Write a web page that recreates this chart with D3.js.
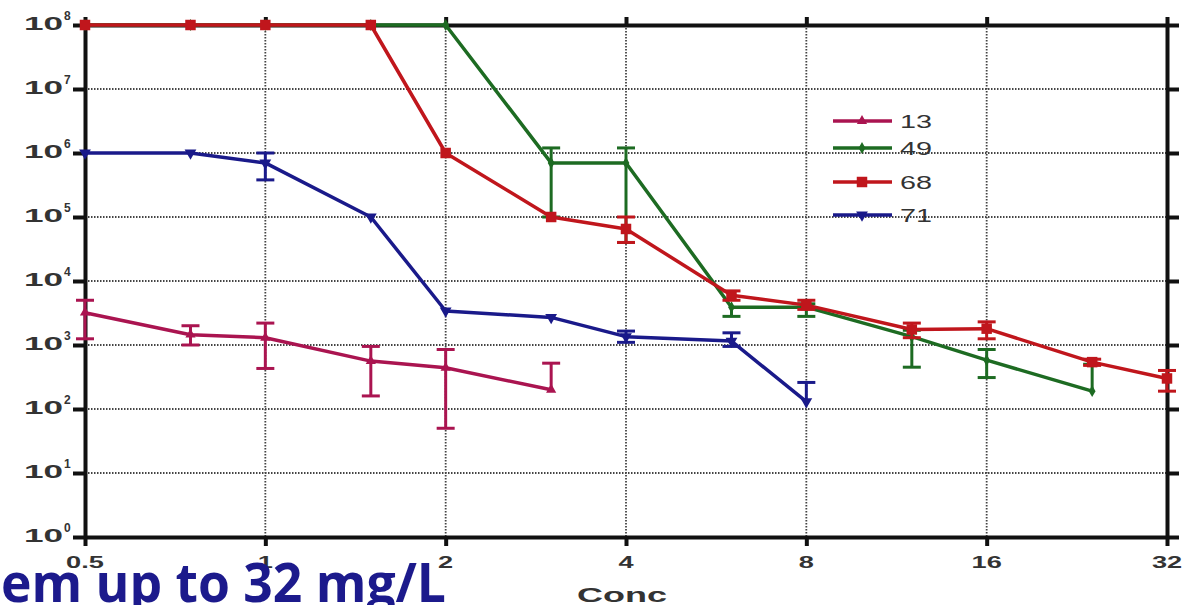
<!DOCTYPE html>
<html>
<head>
<meta charset="utf-8">
<script src="https://cdn.jsdelivr.net/npm/d3@7"></script>
<style>
  html, body { margin: 0; padding: 0; background: #fff; }
  svg { display: block; }
</style>
</head>
<body>
<div id="chart"></div>
<script>
// concentrations (x)
const concs = [0.5, 0.75, 1, 1.5, 2, 3, 4, 6, 8, 12, 16, 24, 32];

// series 13
const s13 = [3200, 1450, 1300, 560, 440, 200, null, null, null, null, null, null, null];
const s13Hi = [5000, 2000, 2200, 950, 850, 520, null, null, null, null, null, null, null];
const s13Lo = [1250, 1000, 430, 160, 50, 200, null, null, null, null, null, null, null];

// series 49
const s49 = [1e8, 1e8, 1e8, 1e8, 1e8, 7e5, 7e5, 3900, 3900, 1350, 580, 190, null];
const s49Hi = [null, null, null, null, null, 1.2e6, 1.2e6, 3900, 4400, 1700, 850, 500, null];
const s49Lo = [null, null, null, null, null, 1e5, 4e4, 2800, 2800, 450, 310, 190, null];

// series 68
const s68 = [1e8, 1e8, 1e8, 1e8, 1e6, 1e5, 6.5e4, 6000, 4200, 1750, 1800, 540, 300];
const s68Hi = [null, null, null, null, null, null, 1e5, 7000, 5000, 2200, 2300, 600, 400];
const s68Lo = [null, null, null, null, null, null, 4e4, 5000, 3600, 1300, 1250, 480, 190];

// series 71
const s71 = [1e6, 1e6, 7e5, 1e5, 3400, 2700, 1350, 1150, 130, null, null, null, null];
const s71Hi = [null, null, 1e6, null, null, null, 1650, 1550, 260, null, null, null, null];
const s71Lo = [null, null, 3.8e5, null, null, null, 1100, 950, 130, null, null, null, null];

const xTicks = [0.5, 1, 2, 4, 8, 16, 32];
const xTickLabels = ['0.5', '1', '2', '4', '8', '16', '32'];
const yTicks = [1, 10, 100, 1e3, 1e4, 1e5, 1e6, 1e7, 1e8];

const seriesNames = ['13', '49', '68', '71'];
const seriesColors = ['#aa1450', '#1d6b22', '#c0161c', '#1a1a8a'];

const width = 1184, height = 605;
const plotLeft = 85, plotRight = 1167, plotTop = 25, plotBottom = 537;
// the source picture is stretched sideways, so its text is too
const stretch = 1.75;
const labelFont = 'Liberation Sans, Arial, sans-serif';

const svg = d3.select('#chart').append('svg')
  .attr('width', width)
  .attr('height', height)
  .attr('viewBox', `0 0 ${width} ${height}`);

const x = d3.scaleLog().base(2).domain([0.5, 32]).range([plotLeft, plotRight]);
const y = d3.scaleLog().domain([1, 1e8]).range([plotBottom, plotTop]);

function wideText(parent, tx, ty, str, size, anchor, weight, sx) {
  return parent.append('text')
    .attr('transform', `translate(${tx},${ty}) scale(${sx || stretch},1)`)
    .attr('text-anchor', anchor)
    .attr('font-family', labelFont)
    .attr('font-weight', weight)
    .attr('font-size', size)
    .attr('fill', '#333')
    .text(str);
}

// grid
const grid = svg.append('g');
grid.selectAll('.gx')
  .data(xTicks.slice(1, -1))
  .enter().append('line')
  .attr('x1', d => x(d)).attr('x2', d => x(d))
  .attr('y1', plotTop).attr('y2', plotBottom)
  .attr('stroke', '#444').attr('stroke-width', 1.8)
  .attr('stroke-dasharray', '1.5,1.5');
grid.selectAll('.gy')
  .data(yTicks.slice(1, -1))
  .enter().append('line')
  .attr('x1', plotLeft).attr('x2', plotRight)
  .attr('y1', d => y(d)).attr('y2', d => y(d))
  .attr('stroke', '#444').attr('stroke-width', 1.8)
  .attr('stroke-dasharray', '1.5,1.5');

// axes (ticks outward on all sides)
const axisLeft = d3.axisLeft(y).tickValues(yTicks).tickSize(12).tickSizeOuter(0).tickFormat('');
const axisRight = d3.axisRight(y).tickValues(yTicks).tickSize(12).tickSizeOuter(0).tickFormat('');
const axisBottom = d3.axisBottom(x).tickValues(xTicks).tickSize(9).tickSizeOuter(0).tickFormat('');
const axisTop = d3.axisTop(x).tickValues(xTicks).tickSize(8).tickSizeOuter(0).tickFormat('');

const axes = [
  svg.append('g').attr('transform', `translate(${plotLeft},0)`).call(axisLeft),
  svg.append('g').attr('transform', `translate(${plotRight},0)`).call(axisRight),
  svg.append('g').attr('transform', `translate(0,${plotBottom})`).call(axisBottom),
  svg.append('g').attr('transform', `translate(0,${plotTop})`).call(axisTop)
];
axes.forEach(a => {
  a.select('.domain').attr('stroke', '#111').attr('stroke-width', 4);
  a.selectAll('.tick line').attr('stroke', '#111').attr('stroke-width', 4);
});

// y tick labels 10^n
const yLab = svg.append('g');
yTicks.forEach(v => {
  wideText(yLab, 63, y(v) + 5, '10', 18, 'end', 'bold', 1.95);
  wideText(yLab, 64, y(v) - 5, String(Math.round(Math.log10(v))), 12, 'start', 'bold', 1.0);
});

// x tick labels
const xLab = svg.append('g');
xTicks.forEach((d, i) => {
  wideText(xLab, x(d), 568, xTickLabels[i], 16, 'middle', 'bold', 1.7);
});

wideText(svg, 622, 602, 'Conc', 20, 'middle', 'bold', 1.8);

// series
const series = [
  {name: '13', vals: s13, hi: s13Hi, lo: s13Lo, symbol: d3.symbolTriangle, size: 45, rot: 0},
  {name: '49', vals: s49, hi: s49Hi, lo: s49Lo, symbol: d3.symbolDiamond, size: 40, rot: 0},
  {name: '68', vals: s68, hi: s68Hi, lo: s68Lo, symbol: d3.symbolSquare, size: 110, rot: 0},
  {name: '71', vals: s71, hi: s71Hi, lo: s71Lo, symbol: d3.symbolTriangle, size: 60, rot: 180}
];

const line = d3.line()
  .defined(d => d.v !== null)
  .x(d => x(d.c))
  .y(d => y(d.v));

series.forEach((s, i) => {
  const color = seriesColors[i];
  const pts = concs.map((c, j) => ({c: c, v: s.vals[j], hi: s.hi[j], lo: s.lo[j]}));
  const g = svg.append('g');

  // error bars
  pts.filter(p => p.v !== null && (p.hi !== null || p.lo !== null)).forEach(p => {
    const hi = p.hi !== null ? p.hi : p.v;
    const lo = p.lo !== null ? p.lo : p.v;
    g.append('line')
      .attr('x1', x(p.c)).attr('x2', x(p.c))
      .attr('y1', y(hi)).attr('y2', y(lo))
      .attr('stroke', color).attr('stroke-width', 3);
    [p.hi, p.lo].filter(e => e !== null && e !== p.v).forEach(e => {
      g.append('line')
        .attr('x1', x(p.c) - 9).attr('x2', x(p.c) + 9)
        .attr('y1', y(e)).attr('y2', y(e))
        .attr('stroke', color).attr('stroke-width', 3);
    });
  });

  g.append('path')
    .datum(pts)
    .attr('d', line)
    .attr('fill', 'none')
    .attr('stroke', color)
    .attr('stroke-width', 3.5)
    .attr('stroke-linejoin', 'round');

  g.selectAll('.mk')
    .data(pts.filter(p => p.v !== null))
    .enter().append('path')
    .attr('d', d3.symbol().type(s.symbol).size(s.size))
    .attr('transform', p => `translate(${x(p.c)},${y(p.v)}) rotate(${s.rot})`)
    .attr('fill', color);
});

// legend
const legendY = [121, 148, 182, 215];
const legend = svg.append('g');
series.forEach((s, i) => {
  const color = seriesColors[i];
  legend.append('line')
    .attr('x1', 833).attr('x2', 892)
    .attr('y1', legendY[i]).attr('y2', legendY[i])
    .attr('stroke', color).attr('stroke-width', 3.5);
  legend.append('path')
    .attr('d', d3.symbol().type(s.symbol).size(s.size))
    .attr('transform', `translate(862,${legendY[i]}) rotate(${s.rot})`)
    .attr('fill', color);
  wideText(legend, 900, legendY[i] + 7, seriesNames[i], 18, 'start', 'normal', 1.6);
});

// overlaid slide caption fragment
svg.append('text')
  .attr('x', 1)
  .attr('y', 602)
  .attr('font-family', 'Open Sans, Noto Sans, sans-serif')
  .attr('font-weight', 'bold')
  .attr('font-size', 54)
  .attr('fill', '#1c1a8c')
  .attr('textLength', 445)
  .attr('lengthAdjust', 'spacingAndGlyphs')
  .text('em up to 32 mg/L');
</script>
</body>
</html>
